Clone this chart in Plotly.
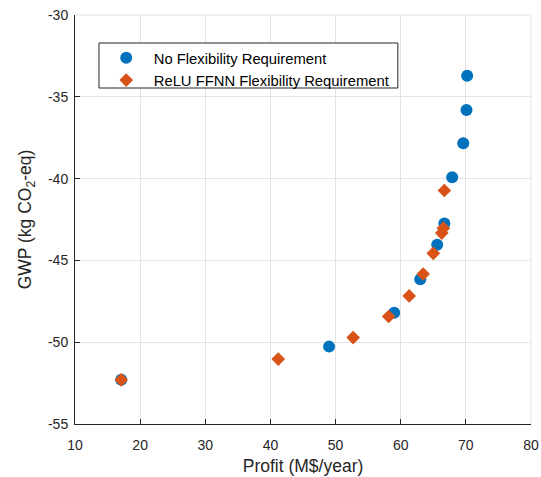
import plotly.graph_objects as go

# Data
no_flex_profit = [17.1, 49.0, 59.0, 63.0, 65.6, 66.7, 67.9, 69.6, 70.1, 70.2]
no_flex_gwp = [-52.3, -50.27, -48.2, -46.15, -44.05, -42.75, -39.92, -37.84, -35.81, -33.71]

relu_profit = [17.1, 41.2, 52.7, 58.15, 61.3, 63.45, 65.0, 66.3, 66.55, 66.7]
relu_gwp = [-52.3, -51.03, -49.72, -48.43, -47.17, -45.83, -44.57, -43.33, -43.03, -40.73]

x_ticks = [10, 20, 30, 40, 50, 60, 70, 80]
y_ticks = [-55, -50, -45, -40, -35, -30]
y_tick_text = ["-55", "-50", "-45", "-40", "-35", "-30"]

series_names = ["No Flexibility Requirement", "ReLU FFNN Flexibility Requirement"]

FONT = "Liberation Sans, Arial, Helvetica, sans-serif"

fig = go.Figure()
fig.add_trace(go.Scatter(
    x=no_flex_profit, y=no_flex_gwp, mode="markers", name=series_names[0],
    marker=dict(symbol="circle", size=12, color="#0072BD"),
))
fig.add_trace(go.Scatter(
    x=relu_profit, y=relu_gwp, mode="markers", name=series_names[1],
    marker=dict(symbol="diamond", size=10.5, color="#D95319"),
))

axis_common = dict(
    showgrid=True, gridcolor="#e3e3e3", gridwidth=1,
    ticks="inside", ticklen=5, tickcolor="#262626",
    showline=True, linecolor="#262626", linewidth=1,
    mirror=False, zeroline=False, automargin=False,
    tickfont=dict(family=FONT, size=14, color="#262626"),
)

fig.update_layout(
    width=541, height=477,
    margin=dict(l=75, r=10, t=15, b=53),
    paper_bgcolor="white", plot_bgcolor="white",
    font=dict(family=FONT, color="#262626"),
    xaxis=dict(range=[10, 80], tickvals=x_ticks, ticklabelstandoff=8,
               title=dict(text="Profit (M$/year)", font=dict(size=17.5), standoff=7),
               **axis_common),
    yaxis=dict(range=[-55, -30], tickvals=y_ticks, ticktext=y_tick_text,
               ticklabelstandoff=3,
               title=dict(text="GWP (kg CO<sub>2</sub>-eq)", font=dict(size=17.5), standoff=11),
               **axis_common),
    legend=dict(
        x=0.052, y=0.9347, xanchor="left", yanchor="top",
        bgcolor="rgba(0,0,0,0)", borderwidth=0,
        font=dict(family=FONT, size=14.8, color="#000000"),
        itemwidth=45, tracegroupgap=0,
    ),
    showlegend=True,
)

# light box on top/right like MATLAB grid
fig.add_shape(type="line", xref="paper", yref="paper", x0=0, x1=1, y0=1, y1=1,
              line=dict(color="#e3e3e3", width=1), layer="below")
fig.add_shape(type="line", xref="paper", yref="paper", x0=1, x1=1, y0=0, y1=1,
              line=dict(color="#e3e3e3", width=1), layer="below")
# legend frame (tighter than plotly's own legend box)
fig.add_shape(type="rect", xref="paper", yref="paper",
              x0=0.0526, x1=0.708, y0=0.8215, y1=0.9315,
              line=dict(color="#262626", width=1), fillcolor="white", layer="above")

fig.write_html("out.html", config={"displayModeBar": False},
               post_script="document.body.style.margin='0';")
